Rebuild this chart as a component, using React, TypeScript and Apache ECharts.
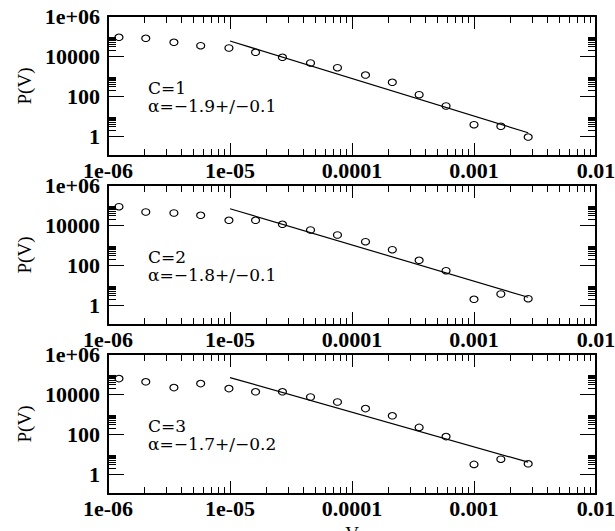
import React, { useEffect, useRef } from "react";
import * as echarts from "echarts";

// Bin centres of V (shared by the three panels)
const vValues = [
  1.23e-6, 2.04e-6, 3.47e-6, 5.75e-6, 9.8e-6, 1.62e-5, 2.69e-5, 4.57e-5,
  7.6e-5, 1.29e-4, 2.14e-4, 3.55e-4, 5.9e-4, 1.0e-3, 1.66e-3, 2.78e-3,
];

// P(V) for each C
const pC1 = [86100, 76700, 48400, 32700, 25100, 15300, 8610, 4470, 2600, 1120, 484, 116, 31.6, 3.67, 3.05, 0.89];
const pC2 = [82200, 44700, 39800, 30500, 17200, 17200, 10800, 5620, 3160, 1460, 582, 172, 51.9, 1.93, 3.55, 2.07];
const pC3 = [58900, 40700, 20900, 33100, 18600, 12900, 12900, 7080, 3980, 1860, 813, 214, 74.1, 3.02, 5.5, 3.24];

// Power-law fits: end points of each fitted line
const fitV = [1e-5, 2.78e-3];
const fitC1 = [56200, 1.46];
const fitC2 = [65300, 2.43];
const fitC3 = [66100, 3.89];

const cLabels = ["C=1", "C=2", "C=3"];
const alphaLabels = ["\u03b1=\u22121.9+/\u22120.1", "\u03b1=\u22121.8+/\u22120.1", "\u03b1=\u22121.7+/\u22120.2"];

// Tick values and their printed labels
const xMajor = [1e-6, 1e-5, 1e-4, 1e-3, 1e-2];
const xMajorLabels = ["1e-06", "1e-05", "0.0001", "0.001", "0.01"];
const yMajor = [1, 100, 10000, 1e6];
const yMajorLabels = ["1", "100", "10000", "1e+06"];
const minorMantissas = [2, 3, 4, 5, 6, 7, 8, 9];

const panels = [
  { p: pC1, fit: fitC1 },
  { p: pC2, fit: fitC2 },
  { p: pC3, fit: fitC3 },
];

const GRID_LEFT = 108;
const GRID_WIDTH = 488;
const GRID_TOPS = [16, 185, 354];
const GRID_HEIGHT = 140;

const SERIF = "'Liberation Serif', 'Times New Roman', serif";
const WIDE_SERIF = "'DejaVu Serif', 'Liberation Serif', serif";

const xMinor: number[] = [];
[1e-6, 1e-5, 1e-4, 1e-3].forEach((d) => minorMantissas.forEach((m) => xMinor.push(m * d)));
const yMinor: number[] = [];
[1, 100, 10000].forEach((d) => minorMantissas.forEach((m) => yMinor.push(m * d)));

function labelFor(values: number[], labels: string[]) {
  return (v: number) => {
    const lv = Math.log10(v);
    for (let i = 0; i < values.length; i++) {
      if (Math.abs(Math.log10(values[i]) - lv) < 1e-6) return labels[i];
    }
    return "";
  };
}

function buildOption() {
  const grids: any[] = [];
  const xAxes: any[] = [];
  const yAxes: any[] = [];
  const series: any[] = [];
  const graphics: any[] = [];

  const frame = { show: true, onZero: false, lineStyle: { color: "#000", width: 2 } };
  const noLine = { show: false };

  panels.forEach((panel, i) => {
    const top = GRID_TOPS[i];
    grids.push({
      left: GRID_LEFT,
      width: GRID_WIDTH,
      top,
      height: GRID_HEIGHT,
      outerBoundsMode: "none",
      containLabel: false,
    });

    const xBase = {
      type: "log",
      logBase: 10,
      gridIndex: i,
      min: 1e-6,
      max: 1e-2,
      splitLine: { show: false },
    };
    const yBase = {
      type: "log",
      logBase: 10,
      gridIndex: i,
      min: 0.1,
      max: 1e6,
      splitLine: { show: false },
    };

    // bottom axis with labels and decade ticks
    xAxes.push({
      ...xBase,
      position: "bottom",
      axisLine: frame,
      axisTick: { show: true, inside: true, length: 13, customValues: xMajor, lineStyle: { color: "#000", width: 1 } },
      axisLabel: {
        show: true,
        customValues: xMajor,
        margin: 3,
        color: "#000",
        fontFamily: SERIF,
        fontSize: 22,
        fontWeight: "bold",
        formatter: labelFor(xMajor, xMajorLabels),
      },
      ...(i === 2
        ? {
            name: "V",
            nameLocation: "middle",
            nameGap: 30,
            nameTextStyle: { color: "#000", fontFamily: SERIF, fontSize: 19 },
          }
        : {}),
    });
    // bottom minor ticks
    xAxes.push({
      ...xBase,
      position: "bottom",
      axisLine: noLine,
      axisTick: { show: true, inside: true, length: 7, customValues: xMinor, lineStyle: { color: "#000", width: 1 } },
      axisLabel: { show: false },
    });
    // top frame with decade ticks
    xAxes.push({
      ...xBase,
      position: "top",
      axisLine: frame,
      axisTick: { show: true, inside: true, length: 13, customValues: xMajor, lineStyle: { color: "#000", width: 1 } },
      axisLabel: { show: false },
    });
    // top minor ticks
    xAxes.push({
      ...xBase,
      position: "top",
      axisLine: noLine,
      axisTick: { show: true, inside: true, length: 7, customValues: xMinor, lineStyle: { color: "#000", width: 1 } },
      axisLabel: { show: false },
    });

    // left axis with labels
    yAxes.push({
      ...yBase,
      position: "left",
      axisLine: frame,
      axisTick: { show: true, inside: true, length: 16, customValues: yMajor, lineStyle: { color: "#000", width: 1 } },
      axisLabel: {
        show: true,
        customValues: yMajor,
        margin: 8,
        color: "#000",
        fontFamily: SERIF,
        fontSize: 22,
        fontWeight: "bold",
        formatter: labelFor(yMajor, yMajorLabels),
      },
      name: "P(V)",
      nameLocation: "middle",
      nameGap: 74,
      nameTextStyle: { color: "#000", fontFamily: SERIF, fontSize: 19 },
    });
    yAxes.push({
      ...yBase,
      position: "left",
      axisLine: noLine,
      axisTick: { show: true, inside: true, length: 8, customValues: yMinor, lineStyle: { color: "#000", width: 1 } },
      axisLabel: { show: false },
    });
    yAxes.push({
      ...yBase,
      position: "right",
      axisLine: frame,
      axisTick: { show: true, inside: true, length: 16, customValues: yMajor, lineStyle: { color: "#000", width: 1 } },
      axisLabel: { show: false },
    });
    yAxes.push({
      ...yBase,
      position: "right",
      axisLine: noLine,
      axisTick: { show: true, inside: true, length: 8, customValues: yMinor, lineStyle: { color: "#000", width: 1 } },
      axisLabel: { show: false },
    });

    series.push({
      type: "line",
      xAxisIndex: 4 * i,
      yAxisIndex: 4 * i,
      data: fitV.map((v, k) => [v, panel.fit[k]]),
      symbol: "none",
      lineStyle: { color: "#000", width: 1.2 },
      silent: true,
      z: 2,
    });
    series.push({
      type: "scatter",
      xAxisIndex: 4 * i,
      yAxisIndex: 4 * i,
      data: vValues.map((v, k) => [v, panel.p[k]]),
      symbol: "circle",
      symbolSize: [8, 6.5],
      itemStyle: { color: "rgba(0,0,0,0)", borderColor: "#000", borderWidth: 1.1, opacity: 1 },
      silent: true,
      z: 3,
    });

    // C and fitted exponent, two lines in one block
    graphics.push({
      type: "text",
      left: 148,
      top: top + 62.5,
      style: {
        text: `${cLabels[i]}\n${alphaLabels[i]}`,
        fill: "#000",
        fontFamily: WIDE_SERIF,
        fontSize: 17,
        lineHeight: 18.5,
      },
    });
  });

  return {
    animation: false,
    backgroundColor: "#fff",
    grid: grids,
    xAxis: xAxes,
    yAxis: yAxes,
    series,
    graphic: graphics,
  };
}

export default function App() {
  const ref = useRef<HTMLDivElement>(null);
  useEffect(() => {
    if (!ref.current) return;
    const chart = echarts.init(ref.current, null, { renderer: "svg" });
    chart.setOption(buildOption() as any);
    return () => chart.dispose();
  }, []);
  return (
    <div
      ref={ref}
      style={{ position: "fixed", left: 0, top: 0, width: 615, height: 531, background: "#fff" }}
    />
  );
}
